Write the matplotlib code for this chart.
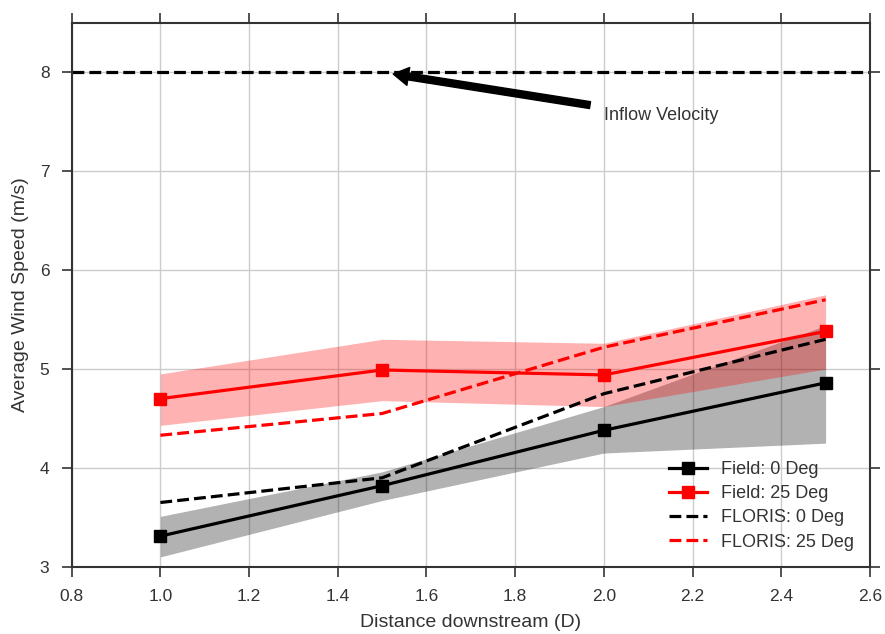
import numpy as np
import matplotlib.pyplot as plt

plt.rcParams['font.family'] = ['Liberation Sans', 'DejaVu Sans']

# distances downstream (D)
dist = [1.0, 1.5, 2.0, 2.5]

# field measurements
field_0 = [3.31, 3.82, 4.38, 4.86]
field_0_lo = [3.10, 3.67, 4.15, 4.25]
field_0_hi = [3.51, 3.96, 4.62, 5.44]

field_25 = [4.70, 4.99, 4.94, 5.38]
field_25_lo = [4.43, 4.68, 4.62, 5.00]
field_25_hi = [4.95, 5.30, 5.26, 5.75]

# FLORIS predictions
floris_0 = [3.65, 3.90, 4.75, 5.30]
floris_25 = [4.33, 4.55, 5.22, 5.70]

inflow = 8.0

fig = plt.figure(figsize=(8.85, 6.34), dpi=100)
ax = fig.add_axes([0.081, 0.106, 0.902, 0.858])

ax.fill_between(dist, field_0_lo, field_0_hi, color='k', alpha=0.3, lw=0)
ax.fill_between(dist, field_25_lo, field_25_hi, color='r', alpha=0.3, lw=0)

ax.plot(dist, field_0, 'ks-', lw=2.3, ms=8, label='Field: 0 Deg')
ax.plot(dist, field_25, 'rs-', lw=2.3, ms=8, label='Field: 25 Deg')
ax.plot(dist, floris_0, 'k--', lw=2.3, label='FLORIS: 0 Deg')
ax.plot(dist, floris_25, 'r--', lw=2.3, label='FLORIS: 25 Deg')

ax.axhline(inflow, color='k', ls='--', lw=2.3)
ax.annotate('Inflow Velocity', xy=(1.5, inflow), xytext=(2.0, 7.56),
            fontsize=13, color='#333333', va='center',
            arrowprops=dict(facecolor='black', edgecolor='black', width=5,
                            headwidth=13, headlength=11, shrink=0.05))

ax.set_xlim(0.8, 2.6)
ax.set_ylim(3, 8.5)
ax.set_xticks(np.arange(0.8, 2.61, 0.2))
ax.set_yticks([3, 4, 5, 6, 7, 8])
ax.grid(True, color='#cccccc', lw=1)
ax.set_axisbelow(True)

for s in ax.spines.values():
    s.set_color('#333333')
    s.set_linewidth(1.5)
ax.tick_params(direction='out', length=7, width=1.2, color='#333333',
               labelcolor='#333333', labelsize=12.5, pad=9, top=True, right=True)

ax.set_xlabel('Distance downstream (D)', fontsize=14, color='#333333', labelpad=7)
ax.set_ylabel('Average Wind Speed (m/s)', fontsize=14, color='#333333', labelpad=8)

leg = ax.legend(loc='lower right', frameon=False, fontsize=13,
                handlelength=2.1, handletextpad=0.75, labelspacing=0.4)
for t in leg.get_texts():
    t.set_color('#333333')

fig.savefig('out.png', dpi=100)
